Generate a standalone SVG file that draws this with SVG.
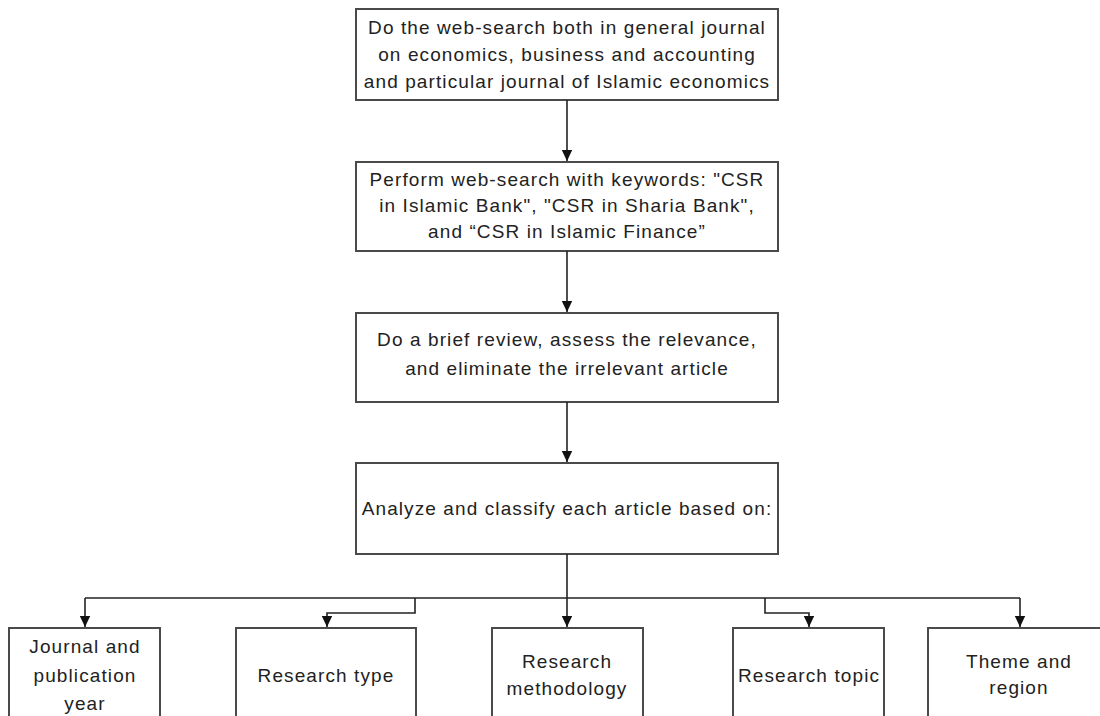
<svg xmlns="http://www.w3.org/2000/svg" width="1100" height="716" viewBox="0 0 1100 716">
<defs>
<marker id="arr" markerUnits="userSpaceOnUse" markerWidth="12" markerHeight="12" refX="11" refY="6" orient="auto">
<path d="M0,0.8 L11,6 L0,11.2 z" fill="#111"/>
</marker>
<style>
.box{fill:#fff;stroke:#4a4a4a;stroke-width:2}
.t{font-family:"Liberation Sans",Arial,sans-serif;font-size:19px;letter-spacing:1.1px;fill:#222;text-anchor:middle}
.c{fill:none;stroke:#222;stroke-width:1.6}
</style>
</defs>
<rect width="1100" height="716" fill="#fff"/>
<g id="n1"><rect class="box" x="356" y="9" width="422" height="91"/>
<text class="t" x="567" y="34">Do the web-search both in general journal</text>
<text class="t" x="567" y="61">on economics, business and accounting</text>
<text class="t" x="567" y="88">and particular journal of Islamic economics</text></g>
<g id="n2"><rect class="box" x="356" y="162" width="422" height="89"/>
<text class="t" x="567" y="186">Perform web-search with keywords: "CSR</text>
<text class="t" x="567" y="212">in Islamic Bank", "CSR in Sharia Bank",</text>
<text class="t" x="567" y="238">and “CSR in Islamic Finance”</text></g>
<g id="n3"><rect class="box" x="356" y="313" width="422" height="89"/>
<text class="t" x="567" y="346">Do a brief review, assess the relevance,</text>
<text class="t" x="567" y="375">and eliminate the irrelevant article</text></g>
<g id="n4"><rect class="box" x="356" y="463" width="422" height="91"/>
<text class="t" x="567" y="515">Analyze and classify each article based on:</text></g>
<g id="n5"><rect class="box" x="9" y="628" width="151" height="110"/>
<text class="t" x="85" y="653">Journal and</text>
<text class="t" x="85" y="682">publication</text>
<text class="t" x="85" y="710">year</text></g>
<g id="n6"><rect class="box" x="236" y="628" width="180" height="110"/>
<text class="t" x="326" y="682">Research type</text></g>
<g id="n7"><rect class="box" x="492" y="628" width="151" height="110"/>
<text class="t" x="567" y="668">Research</text>
<text class="t" x="567" y="695">methodology</text></g>
<g id="n8"><rect class="box" x="733" y="628" width="151" height="110"/>
<text class="t" x="809" y="682">Research topic</text></g>
<g id="n9"><rect class="box" x="928" y="628" width="185" height="110"/>
<text class="t" x="1019" y="668">Theme and</text>
<text class="t" x="1019" y="694">region</text></g>
<g id="connectors">
<path class="c" d="M567,100 V161" marker-end="url(#arr)"/>
<path class="c" d="M567,251 V312" marker-end="url(#arr)"/>
<path class="c" d="M567,402 V462" marker-end="url(#arr)"/>
<path class="c" d="M567,554 V627" marker-end="url(#arr)"/>
<path class="c" d="M85,598 H1020"/>
<path class="c" d="M85,598 V627" marker-end="url(#arr)"/>
<path class="c" d="M415,598 V613 H327 V627" marker-end="url(#arr)"/>
<path class="c" d="M765,598 V613 H809 V627" marker-end="url(#arr)"/>
<path class="c" d="M1020,598 V627" marker-end="url(#arr)"/>
</g>
</svg>
